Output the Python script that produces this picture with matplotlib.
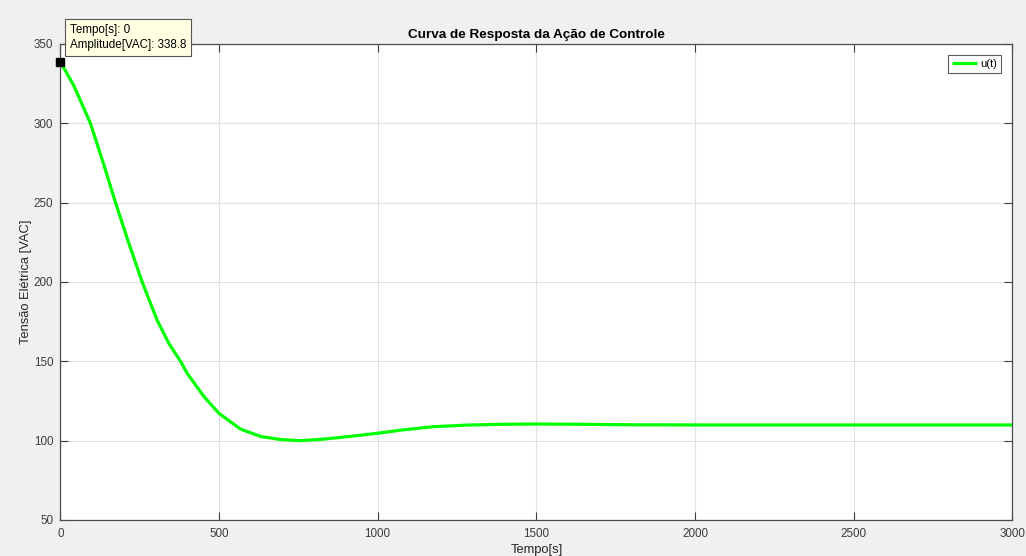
import matplotlib
matplotlib.use("Agg")
import matplotlib.pyplot as plt

plt.rcParams['font.family'] = ['Liberation Sans', 'DejaVu Sans']

# Control action response u(t)
tempo = [0, 42, 95, 137, 174, 216, 258, 305, 342, 379, 400, 453, 500, 568,
         632, 695, 755, 820, 881, 940, 997, 1080, 1175, 1280, 1386, 1500,
         1650, 1806, 2017, 2300, 2600, 3000]
u = [338.8, 324, 300, 274, 250, 224.4, 200, 176, 161.3, 150, 142.4, 127.7,
     117.2, 107.3, 102.6, 100.7, 100, 100.8, 102, 103.3, 104.6, 106.8, 108.8,
     109.8, 110.3, 110.5, 110.3, 110, 109.9, 109.9, 109.9, 109.9]

xticks = [0, 500, 1000, 1500, 2000, 2500, 3000]
yticks = [50, 100, 150, 200, 250, 300, 350]

tip_t = tempo[0]
tip_u = u[0]

fig = plt.figure(figsize=(10.26, 5.56), dpi=100, facecolor='#f0f0f0')
ax = fig.add_axes([60.3 / 1026, 36 / 556, 952 / 1026, 476 / 556])
ax.set_facecolor('white')

ax.plot(tempo, u, color='#00ff00', linewidth=2.3, label='u(t)',
        solid_joinstyle='round', solid_capstyle='butt', zorder=3)

ax.set_xlim(0, 3000)
ax.set_ylim(50, 350)
ax.set_xticks(xticks)
ax.set_yticks(yticks)
ax.grid(True, color='#e1e1e1', linewidth=0.8)
ax.set_axisbelow(True)

for sp in ax.spines.values():
    sp.set_color('#4d4d4d')
    sp.set_linewidth(0.9)
ax.tick_params(direction='in', length=6, width=0.8, colors='#3c3c3c',
               labelsize=8.4, top=True, right=True, pad=5)
ax.tick_params(axis='x', pad=6)

ax.set_title('Curva de Resposta da Ação de Controle', fontsize=9.7,
             fontweight='bold', color='black', pad=4)
ax.set_xlabel('Tempo[s]', fontsize=9.3, color='#262626', labelpad=3)
ax.set_ylabel('Tensão Elétrica [VAC]', fontsize=9.3, color='#262626',
              labelpad=1)

leg = ax.legend(loc='upper right', fontsize=8, frameon=True, fancybox=False,
                handlelength=2.3, handletextpad=0.3, borderpad=0.35,
                borderaxespad=1.0)
leg.get_frame().set_edgecolor('#333333')
leg.get_frame().set_linewidth(0.8)

# data tip at the first sample
ax.plot([tip_t], [tip_u], marker='s', markersize=6, color='black',
        clip_on=False, zorder=5)
ax.annotate(f'Tempo[s]: {tip_t:g}\nAmplitude[VAC]: {tip_u:g}',
            xy=(tip_t, tip_u), xytext=(7, 7.5), textcoords='offset points',
            fontsize=8.4, color='black', ha='left', va='bottom',
            linespacing=1.4, annotation_clip=False, zorder=6,
            bbox=dict(boxstyle='square,pad=0.4', facecolor='#ffffe1',
                      edgecolor='#555555', linewidth=0.8))

fig.savefig('out.png', dpi=100, facecolor=fig.get_facecolor())
